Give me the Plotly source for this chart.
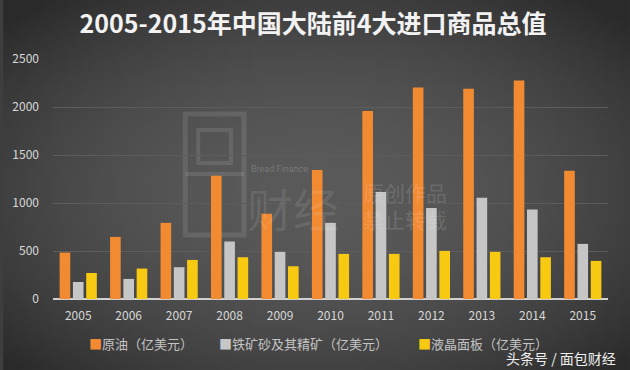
import plotly.graph_objects as go
import zlib, struct, base64, math

years = ["2005", "2006", "2007", "2008", "2009", "2010", "2011", "2012", "2013", "2014", "2015"]
crude_oil = [484, 647, 793, 1284, 887, 1343, 1959, 2203, 2189, 2276, 1336]
iron_ore = [177, 209, 331, 599, 491, 793, 1114, 947, 1054, 933, 574]
lcd_panel = [271, 317, 407, 435, 341, 470, 470, 501, 491, 435, 397]
series_names = ["原油（亿美元）", "铁矿砂及其精矿（亿美元）", "液晶面板（亿美元）"]
series_colors = ["#f28a32", "#c6c6c6", "#f7c910"]

W, H = 630, 370
L, R, T, B = 50, 22, 59, 71
PW, PH = W - L - R, H - T - B


def px(x):
    return (x - L) / PW


def py(y):
    return (H - B - y) / PH


def make_bg_png(w=126, h=74):
    rows = []
    for j in range(h):
        row = bytearray([0])
        for i in range(w):
            dx = (i / (w - 1) - 0.5) * 1.6
            dy = (j / (h - 1) - 0.52) * 1.6
            d = min(1.0, math.sqrt(dx * dx + dy * dy) / 1.1)
            v = int(90 - 48 * d * d)
            row += bytes([v, v, v])
        rows.append(bytes(row))
    raw = b"".join(rows)

    def chunk(t, data):
        c = struct.pack(">I", len(data)) + t + data
        return c + struct.pack(">I", zlib.crc32(t + data) & 0xffffffff)

    png = b"\x89PNG\r\n\x1a\n"
    png += chunk(b"IHDR", struct.pack(">IIBBBBB", w, h, 8, 2, 0, 0, 0))
    png += chunk(b"IDAT", zlib.compress(raw, 9))
    png += chunk(b"IEND", b"")
    return "data:image/png;base64," + base64.b64encode(png).decode()


fig = go.Figure()
for name, vals, col in zip(series_names, [crude_oil, iron_ore, lcd_panel], series_colors):
    fig.add_trace(go.Bar(x=years, y=vals, name=name, marker=dict(color=col, line=dict(width=0))))

font_cjk = "Noto Sans CJK SC, Noto Sans, sans-serif"

fig.update_layout(
    width=W, height=H,
    margin=dict(l=L, r=R, t=T, b=B),
    paper_bgcolor="#3e3e3e",
    plot_bgcolor="rgba(0,0,0,0)",
    barmode="group",
    bargap=0.21,
    bargroupgap=0.2,
    showlegend=False,
    font=dict(family=font_cjk, color="#dddddd", size=12),
    title=dict(text="<b>2005-2015年中国大陆前4大进口商品总值</b>", x=313 / W, xanchor="center",
               y=1 - 24 / H, yanchor="middle", font=dict(size=25, color="#f2f2f2", family=font_cjk)),
    xaxis=dict(showgrid=False, showline=False, ticks="", tickfont=dict(size=12, color="#d8d8d8"),
               ticklabelstandoff=8),
    yaxis=dict(range=[0, 2500], dtick=500, showgrid=True, gridcolor="#5c5c5c", gridwidth=1,
               zeroline=True, zerolinecolor="#d0d0d0", zerolinewidth=2,
               tickfont=dict(size=12, color="#d8d8d8"), ticklabelstandoff=13),
    images=[dict(source=make_bg_png(), xref="paper", yref="paper", x=px(0), y=py(0),
                 sizex=W / PW, sizey=H / PH, xanchor="left", yanchor="top",
                 sizing="stretch", layer="below")],
)

# manual legend
legend_x = [84, 215, 415]
for name, col, lx in zip(series_names, series_colors, legend_x):
    fig.add_annotation(text=f"<span style='color:{col}'>■</span>{name}", xref="paper", yref="paper",
                       x=px(lx), y=py(343), xanchor="left", yanchor="middle", showarrow=False,
                       font=dict(size=13, color="#c4c4c4", family=font_cjk))

# watermark texts
fig.add_annotation(text="头条号 / 面包财经", xref="paper", yref="paper", x=px(618), y=py(358),
                   xanchor="right", yanchor="middle", showarrow=False,
                   font=dict(size=14, color="#f0f0f0", family=font_cjk))
fig.add_annotation(text="Bread Finance", xref="paper", yref="paper", x=px(247), y=py(169),
                   xanchor="left", yanchor="middle", showarrow=False,
                   font=dict(size=9, color="rgba(255,255,255,0.2)", family="Roboto"))
fig.add_annotation(text="原创作品<br>禁止转载", xref="paper", yref="paper", x=px(360), y=py(205),
                   xanchor="left", yanchor="middle", showarrow=False, align="left",
                   font=dict(size=21, color="rgba(255,255,255,0.15)", family=font_cjk))
fig.add_annotation(text="财经", xref="paper", yref="paper", x=px(243), y=py(207),
                   xanchor="left", yanchor="middle", showarrow=False,
                   font=dict(size=46, color="rgba(255,255,255,0.10)", family=font_cjk))
# logo frame (faint)
fig.add_shape(type="rect", xref="paper", yref="paper", x0=px(183), x1=px(242), y0=py(235), y1=py(114),
              line=dict(color="rgba(255,255,255,0.10)", width=5), fillcolor="rgba(0,0,0,0)", layer="below")
fig.add_shape(type="line", xref="paper", yref="paper", x0=px(183), x1=px(242), y0=py(174), y1=py(174),
              line=dict(color="rgba(255,255,255,0.10)", width=4), layer="below")
fig.add_shape(type="rect", xref="paper", yref="paper", x0=px(196), x1=px(229), y0=py(163), y1=py(130),
              line=dict(color="rgba(255,255,255,0.10)", width=4), fillcolor="rgba(0,0,0,0)", layer="below")

fig.write_html("out.html", config={"displayModeBar": False},
               post_script="document.body.style.margin='0';")
